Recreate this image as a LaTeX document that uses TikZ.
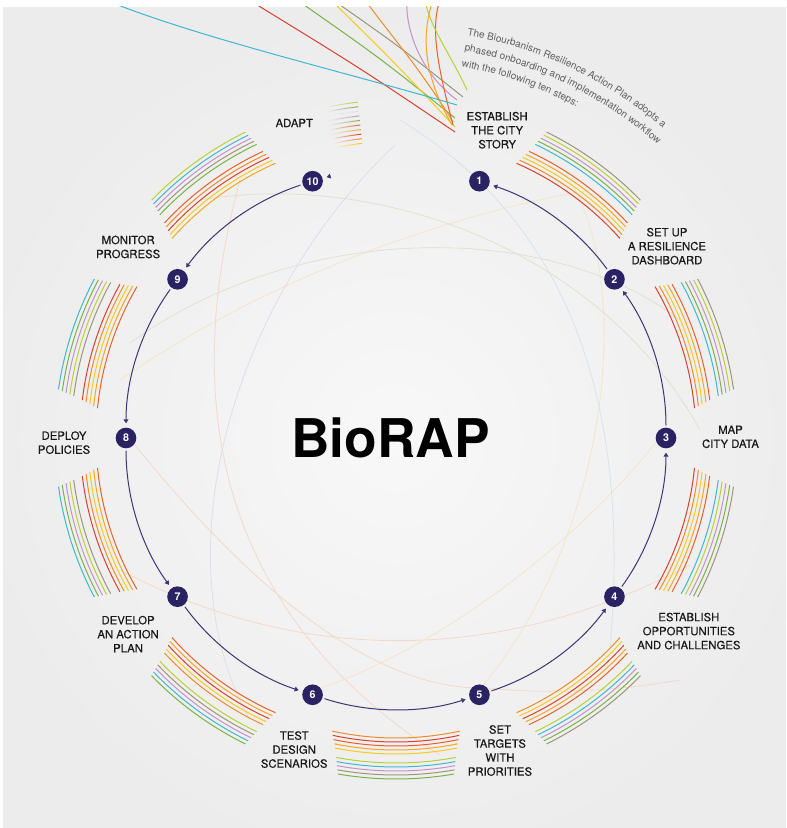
\documentclass[tikz,border=0pt]{standalone}
\usepackage{fontspec}
\setmainfont{TeX Gyre Heros}
\usepackage{tikz}
\usetikzlibrary{arrows.meta,calc,decorations.text,fadings}
\definecolor{fond}{HTML}{ECECEC}
\definecolor{fondclair}{HTML}{F8F8F8}
\definecolor{marine}{HTML}{2A2262}
\definecolor{trace}{HTML}{3C3674}
\definecolor{gristexte}{HTML}{606060}
\definecolor{brique}{HTML}{D9402F}
\definecolor{mandarine}{HTML}{F08A2A}
\definecolor{jaune}{HTML}{F5CB1E}
\definecolor{ambre}{HTML}{F6A623}
\definecolor{vermillon}{HTML}{E8612B}
\definecolor{turquoise}{HTML}{3DB7D4}
\definecolor{vert}{HTML}{78B445}
\definecolor{lilas}{HTML}{C590CC}
\definecolor{citron}{HTML}{B7D232}
\definecolor{kaki}{HTML}{9B967A}
\definecolor{peche}{HTML}{F2D9C9}
\definecolor{paille}{HTML}{EEE8C9}
\definecolor{sauge}{HTML}{E1E0D3}
\definecolor{ciel}{HTML}{D6E4EB}
\definecolor{mauve}{HTML}{E0DDEA}
\tikzset{
  pastille/.style={circle,fill=marine,text=white,inner sep=0pt,minimum size=15.5pt,
                   font=\fontsize{8}{8}\selectfont\bfseries},
  etiquette/.style={align=center,inner sep=0pt,text=black!90,
                    font=\fontsize{8.5}{10.5}\selectfont\addfontfeatures{FakeBold=0.3}},
  boucle/.style={arrows={Triangle[length=3pt,width=3.6pt]-},draw=trace,line width=0.75pt,
                 shorten <=3pt,shorten >=1.5pt},
  fil/.style={line width=0.75pt},
  voile/.style={line width=0.6pt},
}
\newcommand\intro{\fontsize{7.5}{9}\selectfont}

\begin{document}
\begin{tikzpicture}[x=0.75pt,y=0.75pt]
  \useasboundingbox (0,0) rectangle (786,828);
  \coordinate (C) at (396,390);
  \begin{scope}
    \clip (3,0) rectangle (786,821);
    \fill[fond] (3,0) rectangle (786,821);
    \shade[inner color=fondclair,outer color=fond] (C) circle (430);
    \draw[voile,peche] (240,648) .. controls (175,408) and (230,208) .. (440,73);
    \draw[voile,peche] (135,383) .. controls (260,228) and (380,138) .. (485,140)
      .. controls (560,133) and (620,138) .. (680,148);
    \draw[voile,peche] (120,258) .. controls (300,163) and (500,163) .. (690,263);
    \draw[voile,paille] (300,133) .. controls (450,178) and (600,308) .. (665,398);
    \draw[voile,paille] (470,128) .. controls (600,268) and (640,528) .. (570,648);
    \draw[voile,paille] (590,638) .. controls (420,608) and (250,538) .. (120,448);
    \draw[voile,sauge] (200,628) .. controls (380,658) and (600,578) .. (700,398);
    \draw[voile,sauge] (130,485) .. controls (300,608) and (550,608) .. (680,508);
    \draw[voile,ciel] (400,708) .. controls (580,598) and (630,408) .. (610,178);
    \draw[voile,mauve] (395,683) .. controls (230,528) and (160,268) .. (250,108);
    \foreach \m/\chauds/\froids in {
        54/{brique,mandarine,jaune,ambre,vermillon}/{turquoise,vert,lilas,citron,kaki},
        18/{brique,mandarine,jaune,ambre,vermillon}/{turquoise,vert,lilas,citron,kaki},
        -18/{brique,mandarine,jaune,ambre,vermillon}/{turquoise,citron,lilas,vert,kaki},
        -54/{mandarine,jaune,brique,ambre,vermillon}/{citron,turquoise,lilas,vert,kaki},
        -90/{mandarine,brique,vermillon,ambre,jaune}/{citron,turquoise,lilas,kaki,vert},
        -126/{vermillon,ambre,brique,jaune,mandarine}/{citron,kaki,lilas,turquoise,vert},
        -162/{vermillon,ambre,jaune,mandarine,brique}/{kaki,citron,lilas,vert,turquoise},
        -198/{vermillon,ambre,jaune,mandarine,brique}/{kaki,citron,lilas,vert,turquoise},
        -234/{ambre,jaune,brique,mandarine,vermillon}/{vert,kaki,lilas,turquoise,citron}}{
      \foreach \coul [count=\i] in \chauds
        \draw[fil,color=\coul] ($(C)+({\m+12.6-0.3*\i}:{296+4*\i})$)
          arc[start angle={\m+12.6-0.3*\i},end angle={\m-12.6+0.3*\i},radius={296+4*\i}];
      \foreach \coul [count=\i] in \froids
        \draw[fil,color=\coul] ($(C)+({\m+10.8-0.2*\i}:{321+4*\i})$)
          arc[start angle={\m+10.8-0.2*\i},end angle={\m-10.8+0.2*\i},radius={321+4*\i}];
    }
    \foreach \coul [count=\i] in {jaune,mandarine,brique,ambre,vermillon,vert,lilas,ciel,kaki,citron}
      \draw[fil,color=\coul,path fading=west] ($(C)+(102:{292+4.6*\i})$)
        arc[start angle=102,end angle=96.5,radius={292+4.6*\i}];
    \draw[fil,brique] (455,696) .. controls (360,760) .. (249,828);
    \draw[fil,vert] (455,710) .. controls (380,770) .. (297,828);
    \draw[fil,jaune] (455,701) .. controls (395,765) .. (331,828);
    \draw[fil,kaki] (463,731) .. controls (400,781) .. (333,828);
    \draw[fil,mandarine] (453,706) .. controls (420,760) and (385,800) .. (365,828);
    \draw[fil,lilas] (457,728) .. controls (420,755) and (405,800) .. (407,828);
    \draw[fil,ambre] (452,703) .. controls (425,750) and (420,790) .. (433,828);
    \draw[fil,vermillon] (453,703) .. controls (438,760) and (430,800) .. (440,828);
    \draw[fil,citron] (467,738) .. controls (450,775) and (430,800) .. (425,828);
    \draw[fil,turquoise] (457,723) .. controls (330,760) and (200,790) .. (105,828);
  \end{scope}

  \foreach \k in {1,...,10}
    \node[pastille] (e\k) at ($(C)+({108-36*\k}:270)$) {\k};
  \foreach \u/\v in {e1/e2,e2/e3,e3/e4,e4/e5,e5/e6,e6/e7,e7/e8,e8/e9,e9/e10}
    \draw[boucle,bend left=18,looseness=0.87] (\u) to (\v);
  \coordinate (g10) at ($(C)+(104:270)$);
  \draw[boucle,shorten >=0pt] (e10) -- (g10);

  \foreach \a/\r/\txt [count=\k] in {
      71.8/324/{ESTABLISH\\THE CITY\\STORY},
      35.3/332/{SET UP\\A RESILIENCE\\DASHBOARD},
      0.2/334.5/{MAP\\CITY DATA},
      -33.4/350.8/{ESTABLISH\\OPPORTUNITIES\\AND CHALLENGES},
      -71.6/329.4/{SET\\TARGETS\\WITH\\PRIORITIES},
      -108.1/327.8/{TEST\\DESIGN\\SCENARIOS},
      216.2/332/{DEVELOP\\AN ACTION\\PLAN},
      180.8/332/{DEPLOY\\POLICIES},
      144.5/329/{MONITOR\\PROGRESS},
      107.9/331/{ADAPT}}
    \node[etiquette] (t\k) at ($(C)+(\a:\r)$) {\txt};

  \node (titre) at (390.5,390.5) {\fontsize{40}{40}\selectfont\bfseries BioRAP};

  \path[decorate,decoration={text along path,text color=gristexte,
      text={|\intro|The Biourbanism Resilience Action Plan adopts a}}]
    ($(C)+(80:409)$) arc[start angle=80,end angle=25,radius=409];
  \path[decorate,decoration={text along path,text color=gristexte,
      text={|\intro|phased onboarding and implementation workflow}}]
    ($(C)+(80:393)$) arc[start angle=80,end angle=25,radius=393];
  \path[decorate,decoration={text along path,text color=gristexte,
      text={|\intro|with the following ten steps:}}]
    ($(C)+(80:377)$) arc[start angle=80,end angle=25,radius=377];
\end{tikzpicture}
\end{document}
